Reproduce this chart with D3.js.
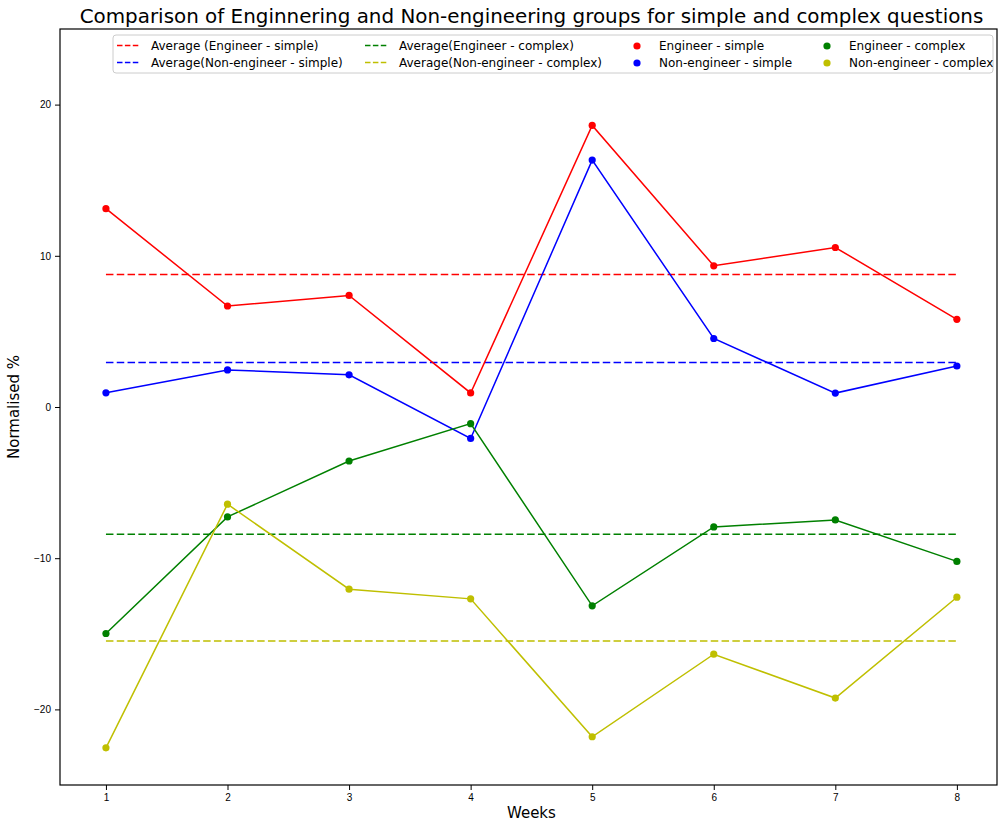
<!DOCTYPE html>
<html>
<head>
<meta charset="utf-8">
<script src="https://cdn.jsdelivr.net/npm/d3@7"></script>
<style>
    body { margin: 0; background: #fff; }
    svg { font-family: "DejaVu Sans", sans-serif; }
    .tick text { font-size: 10px; fill: #000; }
    .tick line { stroke: #000; }
    .label-text { font-size: 15px; fill: #000; }
    .legend-text { font-size: 12px; fill: #000; }
</style>
</head>
<body>
<script>
var weeks = [1, 2, 3, 4, 5, 6, 7, 8];
var engSimple = [13.12, 6.68, 7.38, 0.93, 18.62, 9.34, 10.55, 5.8];
var nonEngSimple = [0.94, 2.45, 2.13, -2.08, 16.33, 4.53, 0.92, 2.71];
var engComplex = [-14.98, -7.27, -3.57, -1.1, -13.15, -7.93, -7.47, -10.21];
var nonEngComplex = [-22.54, -6.43, -12.05, -12.69, -21.81, -16.35, -19.25, -12.58];
var averages = [8.76, 2.95, -8.41, -15.47];
var yTicks = [-20, -10, 0, 10, 20];

var width = 998, height = 822;
var margin = {top: 29, right: 1, bottom: 37, left: 60};
var plotW = width - margin.left - margin.right;
var plotH = height - margin.top - margin.bottom;

var series = [
    {name: "Engineer - simple", avgName: "Average (Engineer - simple)", color: "#ff0000", values: engSimple, avg: averages[0]},
    {name: "Non-engineer - simple", avgName: "Average(Non-engineer - simple)", color: "#0000ff", values: nonEngSimple, avg: averages[1]},
    {name: "Engineer - complex", avgName: "Average(Engineer - complex)", color: "#008000", values: engComplex, avg: averages[2]},
    {name: "Non-engineer - complex", avgName: "Average(Non-engineer - complex)", color: "#bfbf00", values: nonEngComplex, avg: averages[3]}
];

var svg = d3.select("body").append("svg")
    .attr("width", width)
    .attr("height", height)
    .append("g")
    .attr("transform", "translate(" + margin.left + "," + margin.top + ")");

var xScale = d3.scaleLinear()
    .domain([0.622, 8.33])
    .range([0, plotW]);

var yScale = d3.scaleLinear()
    .domain([-25, 25])
    .range([plotH, 0]);

var xAxis = svg.append("g")
    .attr("transform", "translate(0," + plotH + ")")
    .call(d3.axisBottom(xScale).tickValues(weeks).tickFormat(d3.format("d")).tickSize(5).tickPadding(4));
xAxis.select(".domain").remove();

var yAxis = svg.append("g")
    .call(d3.axisLeft(yScale).tickValues(yTicks).tickFormat(function(d) {
        return d < 0 ? "\u2212" + Math.abs(d) : d;
    }).tickSize(5).tickPadding(4));
yAxis.select(".domain").remove();

// average dashed lines, from first to last week
svg.selectAll(".avg")
    .data(series)
    .enter()
    .append("line")
    .attr("x1", xScale(weeks[0]))
    .attr("x2", xScale(weeks[weeks.length - 1]))
    .attr("y1", function(d) { return yScale(d.avg); })
    .attr("y2", function(d) { return yScale(d.avg); })
    .attr("stroke", function(d) { return d.color; })
    .attr("stroke-width", 1.5)
    .attr("stroke-dasharray", "7.5,3.3");

var line = d3.line()
    .x(function(d, i) { return xScale(weeks[i]); })
    .y(function(d) { return yScale(d); });

svg.selectAll(".series-line")
    .data(series)
    .enter()
    .append("path")
    .attr("d", function(d) { return line(d.values); })
    .attr("fill", "none")
    .attr("stroke", function(d) { return d.color; })
    .attr("stroke-width", 1.5);

series.forEach(function(s) {
    svg.selectAll(null)
        .data(s.values)
        .enter()
        .append("circle")
        .attr("cx", function(d, i) { return xScale(weeks[i]); })
        .attr("cy", function(d) { return yScale(d); })
        .attr("r", 3.6)
        .attr("fill", s.color);
});

// frame
svg.append("rect")
    .attr("x", 0)
    .attr("y", 0)
    .attr("width", plotW)
    .attr("height", plotH)
    .attr("fill", "none")
    .attr("stroke", "#000")
    .attr("stroke-width", 1.2);

// legend
var legend = svg.append("g")
    .attr("transform", "translate(" + (113 - margin.left) + "," + (35 - margin.top) + ")");

legend.append("rect")
    .attr("width", 880)
    .attr("height", 38)
    .attr("rx", 3)
    .attr("fill", "#fff")
    .attr("fill-opacity", 0.8)
    .attr("stroke", "#cccccc");

var rowY = [10.5, 27.5];
var avgCols = [4, 252];
var dotCols = [524, 714];

series.forEach(function(s, i) {
    var col = Math.floor(i / 2);
    var row = i % 2;
    // the average entries: rows go red, blue / green, yellow
    legend.append("line")
        .attr("x1", avgCols[col])
        .attr("x2", avgCols[col] + 22)
        .attr("y1", rowY[row])
        .attr("y2", rowY[row])
        .attr("stroke", s.color)
        .attr("stroke-width", 1.5)
        .attr("stroke-dasharray", "5.5,2.4");
    legend.append("text")
        .attr("class", "legend-text")
        .attr("x", avgCols[col] + 34)
        .attr("y", rowY[row])
        .attr("dominant-baseline", "central")
        .text(s.avgName);

    legend.append("circle")
        .attr("cx", dotCols[col])
        .attr("cy", rowY[row] + 0.5)
        .attr("r", 3.6)
        .attr("fill", s.color);
    legend.append("text")
        .attr("class", "legend-text")
        .attr("x", dotCols[col] + 22)
        .attr("y", rowY[row])
        .attr("dominant-baseline", "central")
        .text(s.name);
});

svg.append("text")
    .attr("x", plotW / 2 + 3)
    .attr("y", -6)
    .attr("text-anchor", "middle")
    .style("font-size", "19.9px")
    .text("Comparison of Enginnering and Non-engineering groups for simple and complex questions");

svg.append("text")
    .attr("class", "label-text")
    .attr("x", xScale(4.5) - 0)
    .attr("y", plotH + 33)
    .attr("text-anchor", "middle")
    .text("Weeks");

svg.append("text")
    .attr("class", "label-text")
    .attr("transform", "rotate(-90)")
    .attr("x", -yScale(0))
    .attr("y", -41)
    .attr("text-anchor", "middle")
    .text("Normalised %");
</script>
</body>
</html>
